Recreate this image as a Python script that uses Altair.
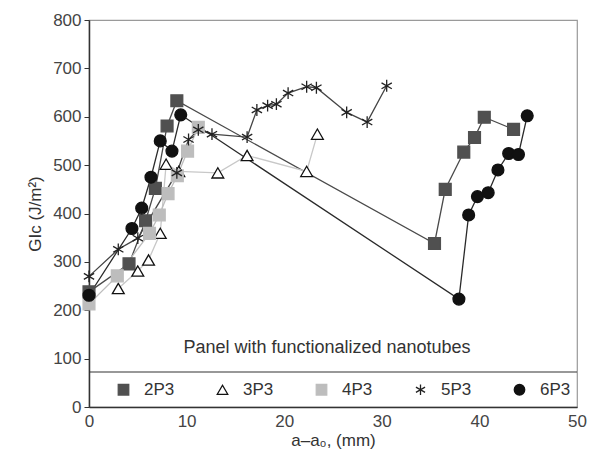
import altair as alt
import pandas as pd

# ---- data ----
series_names = ["2P3", "3P3", "4P3", "5P3", "6P3"]

x_2p3 = [0, 4.1, 5.8, 6.8, 8.0, 9.0, 35.4, 36.5, 38.4, 39.5, 40.5, 43.5]
y_2p3 = [238, 296, 385, 452, 581, 633, 338, 450, 527, 557, 599, 574]

x_3p3 = [3.0, 5.0, 6.1, 7.3, 7.9, 9.2, 13.2, 16.2, 22.3, 23.4]
y_3p3 = [245, 281, 304, 359, 502, 487, 484, 520, 487, 564]

x_4p3 = [0, 2.9, 6.2, 7.2, 8.1, 9.05, 10.1, 11.2]
y_4p3 = [213, 271, 359, 397, 441, 478, 529, 578]

x_5p3 = [0, 3.0, 5.0, 9.0, 10.2, 11.2, 12.6, 16.2, 17.2, 18.3, 19.2, 20.4,
         22.3, 23.3, 26.4, 28.5, 30.5]
y_5p3 = [270, 326, 349, 484, 553, 573, 564, 558, 614, 623, 626, 649,
         662, 660, 609, 589, 664]

x_6p3 = [0, 4.4, 5.4, 6.35, 7.3, 8.5, 9.4, 37.9, 38.9, 39.8, 40.9, 41.9,
         43.0, 44.0, 44.9]
y_6p3 = [231, 369, 411, 475, 550, 529, 604, 223, 397, 435, 443, 490,
         524, 522, 602]

x_ticks = [0, 10, 20, 30, 40, 50]
y_ticks = [0, 100, 200, 300, 400, 500, 600, 700, 800]

# ---- styles ----
line_colors = ["#4a4a4a", "#c8c8c8", "#bdbdbd", "#444444", "#2a2a2a"]
marker_fill = ["#505050", "#ffffff", "#bdbdbd", "#ffffff", "#111111"]
marker_stroke = ["#505050", "#111111", "#bdbdbd", "#222222", "#111111"]
asterisk = "M0,-1V1M-0.87,-0.5L0.87,0.5M-0.87,0.5L0.87,-0.5"
marker_shapes = ["square", "triangle-up", "square", asterisk, "circle"]

xs = [x_2p3, x_3p3, x_4p3, x_5p3, x_6p3]
ys = [y_2p3, y_3p3, y_4p3, y_5p3, y_6p3]
rows = []
for name, xv, yv in zip(series_names, xs, ys):
    for i, (a, b) in enumerate(zip(xv, yv)):
        rows.append({"series": name, "i": i, "x": a, "y": b})
df = pd.DataFrame(rows)

FONT = "Liberation Sans"

xenc = alt.X("x:Q", scale=alt.Scale(domain=[0, 50], nice=False),
             axis=alt.Axis(values=x_ticks, title="a\u2013a\u2080, (mm)", ticks=False,
                           labelFlush=False, labelPadding=6, titlePadding=3))
yenc = alt.Y("y:Q", scale=alt.Scale(domain=[0, 800], nice=False),
             axis=alt.Axis(values=y_ticks, title="GIc (J/m\u00b2)", tickSize=5,
                           labelFlush=False, labelPadding=3, titlePadding=8))

base = alt.Chart(df)

line_layers = []
for name, col in zip(series_names, line_colors):
    line_layers.append(
        base.transform_filter(alt.datum.series == name)
        .mark_line(color=col, strokeWidth=1.3)
        .encode(x=xenc, y=yenc, order="i:Q")
    )

leg = alt.Legend(orient="none", direction="horizontal", title=None,
                 legendX=26, legendY=361, padding=0, columnPadding=39,
                 labelOffset=12)

points = base.mark_point(filled=False, opacity=1, strokeWidth=1.3, size=140).encode(
    x=xenc, y=yenc,
    shape=alt.Shape("series:N", scale=alt.Scale(domain=series_names, range=marker_shapes), legend=leg),
    fill=alt.Fill("series:N", scale=alt.Scale(domain=series_names, range=marker_fill)),
    stroke=alt.Stroke("series:N", scale=alt.Scale(domain=series_names, range=marker_stroke)),
)

sep = alt.Chart(pd.DataFrame({"k": [0]})).mark_rule(color="#333333", strokeWidth=1.2).encode(
    x=alt.value(0), x2=alt.value(488), y=alt.value(352))

note = alt.Chart(pd.DataFrame({"t": ["Panel with functionalized nanotubes"]})).mark_text(
    font=FONT, fontSize=18, color="#333333", baseline="middle", align="center"
).encode(x=alt.value(238), y=alt.value(328), text="t:N")

chart = alt.layer(*line_layers, points, sep, note).properties(
    width=488, height=387,
    autosize=alt.AutoSizeParams(type="none"),
    padding={"left": 81, "top": 12, "right": 15, "bottom": 48},
).configure_view(stroke="#9a9a9a", strokeWidth=1.2).configure_axis(
    labelFont=FONT, titleFont=FONT, labelFontSize=17, titleFontSize=17,
    labelColor="#444444", titleColor="#333333", titleFontWeight="normal",
    domainColor="#333333", domainWidth=1.5, tickColor="#333333", grid=False,
).configure_legend(
    labelFont=FONT, labelFontSize=17, labelColor="#333333",
    symbolSize=110, symbolStrokeWidth=1.3,
)

chart.save("out.html", embed_options={"renderer": "svg", "actions": False})
